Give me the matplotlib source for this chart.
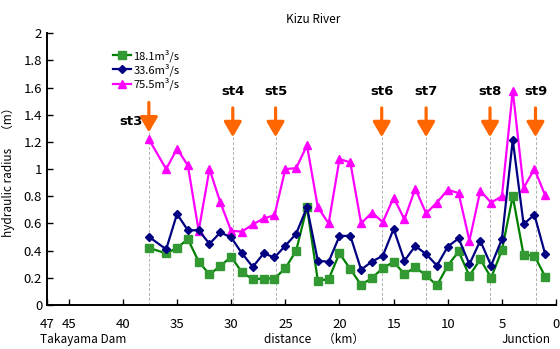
import matplotlib
matplotlib.use("Agg")
import matplotlib.pyplot as plt

plt.rcParams['font.family'] = ['Noto Sans CJK JP', 'DejaVu Sans']

# ---- data ----
distance_km = [37.6, 36, 35, 34, 33, 32, 31, 30, 29, 28, 27, 26, 25, 24, 23, 22, 21, 20,
               19, 18, 17, 16, 15, 14, 13, 12, 11, 10, 9, 8, 7, 6, 5, 4, 3, 2, 1]
q18 = [0.42, 0.38, 0.42, 0.485, 0.32, 0.225, 0.287, 0.355, 0.24, 0.19, 0.195, 0.195,
       0.27, 0.40, 0.72, 0.18, 0.19, 0.38, 0.265, 0.147, 0.20, 0.27, 0.318, 0.228,
       0.277, 0.218, 0.144, 0.29, 0.394, 0.215, 0.338, 0.20, 0.404, 0.80, 0.368, 0.363, 0.208]
q33 = [0.502, 0.41, 0.67, 0.55, 0.55, 0.45, 0.534, 0.497, 0.38, 0.28, 0.38, 0.35,
       0.436, 0.524, 0.72, 0.326, 0.318, 0.507, 0.51, 0.26, 0.32, 0.362, 0.56, 0.326,
       0.434, 0.375, 0.29, 0.43, 0.49, 0.30, 0.473, 0.29, 0.485, 1.215, 0.595, 0.664, 0.372]
q75 = [1.22, 1.0, 1.15, 1.027, 0.546, 1.0, 0.755, 0.546, 0.54, 0.593, 0.637, 0.66,
       1.0, 1.007, 1.174, 0.72, 0.60, 1.073, 1.05, 0.60, 0.68, 0.61, 0.79, 0.63,
       0.857, 0.674, 0.754, 0.848, 0.823, 0.473, 0.84, 0.754, 0.80, 1.578, 0.862, 1.0, 0.806]
series_labels = ['18.1m³/s', '33.6m³/s', '75.5m³/s']

station_names = ['st3', 'st4', 'st5', 'st6', 'st7', 'st8', 'st9']
station_km = [37.6, 29.85, 25.9, 16.1, 12.0, 6.1, 1.9]

xticks = [47, 45, 40, 35, 30, 25, 20, 15, 10, 5, 0]
yticks = [0, 0.2, 0.4, 0.6, 0.8, 1.0, 1.2, 1.4, 1.6, 1.8, 2.0]
ytick_labels = ['0', '0.2', '0.4', '0.6', '0.8', '1', '1.2', '1.4', '1.6', '1.8', '2']

fig = plt.figure(figsize=(5.6, 3.49), dpi=100)
ax = fig.add_axes([0.084, 0.126, 0.909, 0.779])

ax.set_xlim(47, 0)
ax.set_ylim(0, 2)

# station markers
for i, (name, km) in enumerate(zip(station_names, station_km)):
    if i == 0:
        tail, tip = 1.49, 1.27
        ax.text(km + 1.6, 1.35, name, ha='center', va='center', fontsize=9.5,
                fontweight='bold', family=['DejaVu Sans'])
    else:
        tail, tip = 1.45, 1.235
        ax.text(km, 1.57, name, ha='center', va='center', fontsize=9.5,
                fontweight='bold', family=['DejaVu Sans'])
    ax.vlines(km, 0, tip, colors='#b0b0b0', linestyles=(0, (3, 2)), lw=0.7, zorder=1)
    ax.annotate('', xy=(km, tip), xytext=(km, tail),
                arrowprops=dict(arrowstyle='-|>,head_width=0.38,head_length=0.65',
                                color='#ff6600', lw=2.3, mutation_scale=14,
                                shrinkA=0, shrinkB=0), zorder=3)

l1, = ax.plot(distance_km, q18, color='#008000', lw=1.6, marker='s', ms=5.6,
              markerfacecolor='#339933', markeredgecolor='#339933', label=series_labels[0], zorder=4)
l2, = ax.plot(distance_km, q33, color='#000080', lw=1.6, marker='D', ms=4,
              markerfacecolor='#000080', markeredgecolor='#000080', label=series_labels[1], zorder=5)
l3, = ax.plot(distance_km, q75, color='#ff00ff', lw=1.6, marker='^', ms=5.5,
              markerfacecolor='#ff00ff', markeredgecolor='#ff00ff', label=series_labels[2], zorder=3)

ax.legend(handles=[l1, l2, l3], loc='upper left', bbox_to_anchor=(0.115, 0.97),
          frameon=False, fontsize=8, handlelength=1.6, handletextpad=0.2,
          labelspacing=0.15, borderpad=0.2)

ax.set_xticks(xticks)
ax.set_xticklabels([str(t) for t in xticks])
ax.set_yticks(yticks)
ax.set_yticklabels(ytick_labels)
ax.tick_params(direction='in', length=4, width=1, labelsize=9.5, colors='black')
ax.tick_params(axis='x', pad=9)
for s in ['top', 'right']:
    ax.spines[s].set_visible(False)
for s in ['left', 'bottom']:
    ax.spines[s].set_linewidth(1.4)

ax.set_ylabel('hydraulic radius　（m）', fontsize=8.5, labelpad=6)

fig.text(0.56, 0.945, 'Kizu River', ha='center', va='center', fontsize=8.5)
fig.text(0.56, 0.028, 'distance　（km）', ha='center', va='center', fontsize=8.5)
fig.text(0.072, 0.028, 'Takayama Dam', ha='left', va='center', fontsize=8.5)
fig.text(0.94, 0.028, 'Junction', ha='center', va='center', fontsize=8.5)

fig.savefig('out.png', dpi=100)
